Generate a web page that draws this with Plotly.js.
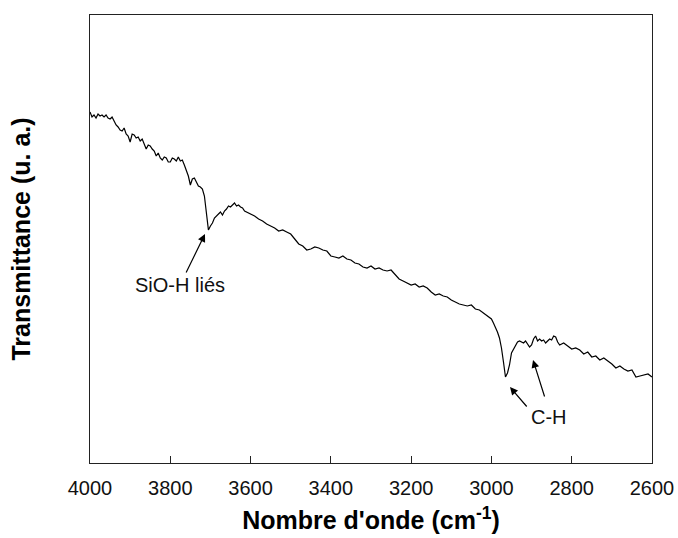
<!DOCTYPE html>
<html>
<head>
<meta charset="utf-8">
<script src="https://cdn.plot.ly/plotly-3.0.1.min.js"></script>
<style>html,body{margin:0;padding:0;background:#fff}#chart{width:678px;height:538px}</style>
</head>
<body>
<div id="chart"></div>
<script>
// Wavenumbers (cm^-1)
const wavenumber = [4000,3995,3990,3985,3980,3975,3970,3965,3960,3955,3950,3945,3940,3935,3930,3925,3920,3915,3910,3905,3900,3895,3890,3885,3880,3875,3870,3865,3860,3855,3850,3845,3840,3835,3830,3825,3820,3815,3810,3805,3800,3795,3790,3785,3780,3775,3770,3765,3760,3755,3750,3745,3740,3735,3730,3725,3720,3715,3710,3705,3700,3695,3690,3685,3680,3675,3670,3665,3660,3655,3650,3645,3640,3635,3630,3625,3620,3615,3610,3605,3600,3590,3580,3570,3560,3550,3540,3530,3520,3510,3500,3490,3480,3470,3460,3450,3440,3430,3420,3410,3400,3390,3380,3370,3360,3350,3340,3330,3320,3310,3300,3290,3280,3270,3260,3250,3240,3230,3220,3210,3200,3190,3180,3170,3160,3150,3140,3130,3120,3110,3100,3090,3080,3070,3060,3050,3040,3030,3020,3010,3000,2995,2990,2985,2980,2975,2970,2965,2960,2955,2950,2945,2940,2935,2930,2925,2920,2915,2910,2905,2900,2895,2890,2885,2880,2875,2870,2865,2860,2855,2850,2845,2840,2835,2830,2820,2810,2800,2790,2780,2770,2760,2750,2740,2730,2720,2710,2700,2690,2680,2670,2660,2650,2640,2630,2620,2610,2600];
// Transmittance (arbitrary units)
const transmittance = [351,346,348,345,349,347,348,346,348,345,344,346,342,338,336,333,332,335,329,327,321,329,328,325,326,322,324,319,314,318,317,314,312,307,310,305,303,306,305,301,301,305,304,302,306,302,303,298,293,287,278,284,285,281,277,276,274,267,251,233,237,240,245,247,249,251,248,252,254,257,256,258,260,257,258,256,255,252,251,250,249,247,244,242,239,237,235,232,233,231,229,224,219,217,213,214,216,215,213,212,207,206,205,207,204,203,200,199,196,195,197,194,195,193,192,193,189,184,182,180,178,179,176,177,175,171,168,169,167,166,163,161,159,158,157,158,154,153,150,147,144,140,136,131,125,115,101,86,90,98,110,114,118,121,122,121,120,122,119,116,118,124,127,122,124,122,123,120,122,124,123,127,126,121,118,120,117,114,115,113,109,111,106,107,103,105,102,99,95,97,94,92,93,86,87,88,89,86];

const xTicks = [4000,3800,3600,3400,3200,3000,2800,2600];
const labels = {band1: 'SiO-H liés', band2: 'C-H'};

const font = 'Arial, "Liberation Sans", sans-serif';

const trace = {
  x: wavenumber, y: transmittance, type: 'scatter', mode: 'lines',
  line: {color: '#000', width: 1.2}, hoverinfo: 'skip'
};

const layout = {
  width: 678, height: 538,
  margin: {l: 90, r: 26, t: 15, b: 75},
  paper_bgcolor: '#fff', plot_bgcolor: '#fff',
  showlegend: false,
  font: {family: font, color: '#000'},
  xaxis: {
    range: [4000, 2600], autorange: false,
    tickvals: xTicks, ticktext: xTicks.map(String),
    ticks: 'inside', ticklen: 7, tickwidth: 1, tickcolor: '#222',
    showline: true, linecolor: '#222', linewidth: 1, mirror: true,
    showgrid: false, zeroline: false,
    tickfont: {family: font, size: 20, color: '#111'},
    ticklabelstandoff: 7,
    title: {text: "Nombre d'onde (cm<sup>-1</sup>)", font: {family: font, size: 25, color: '#000', weight: 'bold'}, standoff: 13},
    automargin: false
  },
  yaxis: {
    range: [0, 448], autorange: false,
    showticklabels: false, ticks: '',
    showline: true, linecolor: '#222', linewidth: 1, mirror: true,
    showgrid: false, zeroline: false,
    title: {text: 'Transmittance (u. a.)', font: {family: font, size: 25, color: '#000', weight: 'bold'}, standoff: 51},
    automargin: false
  },
  annotations: [
    {x: 3713.5, y: 229, xref: 'x', yref: 'y', text: labels.band1, showarrow: true,
     ax: -25, ay: 51, arrowhead: 2, arrowsize: 1.3, arrowwidth: 1.2, arrowcolor: '#000',
     font: {family: font, size: 20, color: '#111'}},
    {x: 2953.7, y: 76, xref: 'x', yref: 'y', text: '', showarrow: true,
     ax: 18, ay: 21, arrowhead: 2, arrowsize: 1.3, arrowwidth: 1.2, arrowcolor: '#000'},
    {x: 2896.4, y: 103, xref: 'x', yref: 'y', text: '', showarrow: true,
     ax: 12, ay: 38, arrowhead: 2, arrowsize: 1.3, arrowwidth: 1.2, arrowcolor: '#000'},
    {x: 2856.5, y: 46, xref: 'x', yref: 'y', xanchor: 'center', yanchor: 'middle',
     text: labels.band2, showarrow: false,
     font: {family: font, size: 20, color: '#111'}}
  ]
};

Plotly.newPlot('chart', [trace], layout, {staticPlot: true, displayModeBar: false});
</script>
</body>
</html>
